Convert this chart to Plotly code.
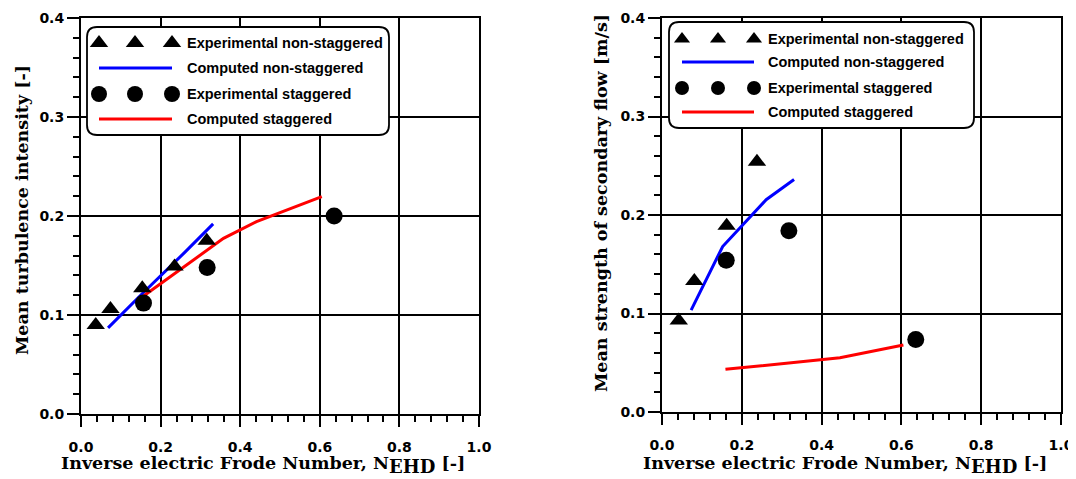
import plotly.graph_objects as go

# ---------------- data ----------------
# Left panel: mean turbulence intensity
ti_exp_ns_x = [0.037, 0.074, 0.154, 0.235, 0.316]
ti_exp_ns_y = [0.090, 0.106, 0.127, 0.149, 0.175]
ti_comp_ns_x = [0.068, 0.155, 0.26, 0.332]
ti_comp_ns_y = [0.087, 0.122, 0.163, 0.192]
ti_exp_st_x = [0.157, 0.317, 0.636]
ti_exp_st_y = [0.112, 0.148, 0.200]
ti_comp_st_x = [0.158, 0.358, 0.441, 0.605]
ti_comp_st_y = [0.1195, 0.1774, 0.1943, 0.2195]

# Right panel: mean strength of secondary flow
sf_exp_ns_x = [0.042, 0.081, 0.162, 0.238]
sf_exp_ns_y = [0.093, 0.133, 0.189, 0.254]
sf_comp_ns_x = [0.073, 0.152, 0.261, 0.331]
sf_comp_ns_y = [0.1035, 0.168, 0.2155, 0.236]
sf_exp_st_x = [0.161, 0.318, 0.636]
sf_exp_st_y = [0.154, 0.184, 0.0736]
sf_comp_st_x = [0.159, 0.446, 0.605]
sf_comp_st_y = [0.0433, 0.055, 0.068]

x_ticks = [0.0, 0.2, 0.4, 0.6, 0.8, 1.0]
y_ticks = [0.0, 0.1, 0.2, 0.3, 0.4]
legend_labels = ["Experimental non-staggered", "Computed non-staggered",
                 "Experimental staggered", "Computed staggered"]
x_title = "Inverse electric Frode Number, N<sub><span style=\"font-size:18px\">EHD</span></sub> [-]"
y_title_left = "Mean turbulence intensity [-]"
y_title_right = "Mean strength of secondary flow [m/s]"

# The page body has an 8px default margin: size the figure so it fits the window
OFF = 8
W, H = 1076 - OFF, 479 - OFF
BLUE = "rgb(0,0,255)"
RED = "rgb(255,0,0)"

TICK_FONT = dict(family="DejaVu Sans", size=14, color="black", weight="bold")
TITLE_FONT = dict(family="DejaVu Serif", size=17.5, color="black", weight="bold")
LEG_FONT = dict(family="Liberation Sans", size=14.5, color="black", weight="bold")

fig = go.Figure()

def add_panel(xa, ya, enx, eny, cnx, cny, esx, esy, csx, csy):
    fig.add_trace(go.Scatter(x=cnx, y=cny, mode="lines", line=dict(color=BLUE, width=3),
                             xaxis=xa, yaxis=ya, showlegend=False))
    fig.add_trace(go.Scatter(x=csx, y=csy, mode="lines", line=dict(color=RED, width=3),
                             xaxis=xa, yaxis=ya, showlegend=False))
    fig.add_trace(go.Scatter(x=enx, y=eny, mode="markers",
                             marker=dict(symbol="triangle-up", size=16, color="black"),
                             xaxis=xa, yaxis=ya, showlegend=False))
    fig.add_trace(go.Scatter(x=esx, y=esy, mode="markers",
                             marker=dict(symbol="circle", size=17, color="black"),
                             xaxis=xa, yaxis=ya, showlegend=False))

add_panel("x", "y", ti_exp_ns_x, ti_exp_ns_y, ti_comp_ns_x, ti_comp_ns_y,
          ti_exp_st_x, ti_exp_st_y, ti_comp_st_x, ti_comp_st_y)
add_panel("x2", "y2", sf_exp_ns_x, sf_exp_ns_y, sf_comp_ns_x, sf_comp_ns_y,
          sf_exp_st_x, sf_exp_st_y, sf_comp_st_x, sf_comp_st_y)

# screen pixel -> figure pixel / paper
def fx(v):
    return v - OFF

def fy(v):
    return v - OFF

def px_x(v):
    return fx(v) / W

def px_y(v):
    return 1 - fy(v) / H

def xaxis_cfg(d0, d1):
    return dict(domain=[px_x(d0), px_x(d1)], range=[0, 1], tickvals=x_ticks,
                tickformat=".1f", showgrid=True, gridcolor="black", gridwidth=2,
                zeroline=False, showline=True, linecolor="black", linewidth=2, mirror=True,
                ticks="outside", ticklen=11, tickwidth=2, tickcolor="black",
                tickfont=TICK_FONT, ticklabelstandoff=8, automargin=False,
                minor=dict(ticks="outside", ticklen=6, tickwidth=1.5, tickcolor="black",
                           dtick=0.04, showgrid=False),
                fixedrange=True)

def yaxis_cfg(d0, d1):
    return dict(domain=[px_y(d1), px_y(d0)], range=[0, 0.4], tickvals=y_ticks,
                tickformat=".1f", showgrid=True, gridcolor="black", gridwidth=2,
                zeroline=False, showline=True, linecolor="black", linewidth=2, mirror=True,
                ticks="outside", ticklen=12, tickwidth=2, tickcolor="black",
                tickfont=TICK_FONT, ticklabelstandoff=0, automargin=False,
                minor=dict(ticks="outside", ticklen=6, tickwidth=1.5, tickcolor="black",
                           dtick=0.02, showgrid=False),
                fixedrange=True)

# ---------------- legend overlay (pixel coordinate system) ----------------
def legend_box(bx0, by0, bx1, by1, rows_y, sym_x, text_x, tri_size, circ_size):
    bx0, bx1, text_x = fx(bx0), fx(bx1), fx(text_x)
    by0, by1 = fy(by0), fy(by1)
    rows_y = [fy(v) for v in rows_y]
    sym_x = [fx(v) for v in sym_x]
    r = 10
    path = (f"M {bx0+r},{by0} L {bx1-r},{by0} Q {bx1},{by0} {bx1},{by0+r} "
            f"L {bx1},{by1-r} Q {bx1},{by1} {bx1-r},{by1} L {bx0+r},{by1} "
            f"Q {bx0},{by1} {bx0},{by1-r} L {bx0},{by0+r} Q {bx0},{by0} {bx0+r},{by0} Z")
    fig.add_shape(type="path", path=path, xref="x3", yref="y3", layer="below",
                  fillcolor="white", line=dict(color="black", width=1.8))
    fig.add_trace(go.Scatter(x=sym_x, y=[rows_y[0]] * 3, mode="markers",
                             marker=dict(symbol="triangle-up", size=tri_size, color="black"),
                             xaxis="x3", yaxis="y3", showlegend=False, cliponaxis=False))
    fig.add_trace(go.Scatter(x=[sym_x[0], sym_x[2]], y=[rows_y[1]] * 2, mode="lines",
                             line=dict(color=BLUE, width=3),
                             xaxis="x3", yaxis="y3", showlegend=False, cliponaxis=False))
    fig.add_trace(go.Scatter(x=sym_x, y=[rows_y[2]] * 3, mode="markers",
                             marker=dict(symbol="circle", size=circ_size, color="black"),
                             xaxis="x3", yaxis="y3", showlegend=False, cliponaxis=False))
    fig.add_trace(go.Scatter(x=[sym_x[0], sym_x[2]], y=[rows_y[3]] * 2, mode="lines",
                             line=dict(color=RED, width=3),
                             xaxis="x3", yaxis="y3", showlegend=False, cliponaxis=False))
    for lab, yy in zip(legend_labels, rows_y):
        fig.add_annotation(x=text_x, y=yy, xref="x3", yref="y3", text=lab,
                           showarrow=False, xanchor="left", yanchor="middle", font=LEG_FONT)

legend_box(87, 27, 389, 135, [43, 68, 94, 119], [99, 135, 172], 185, 16, 16)
legend_box(669, 22, 974, 128, [39, 62, 88, 112], [682, 718, 754], 766, 14, 14)

# axis titles
def title_ann(x, y, text, angle=0):
    fig.add_annotation(x=fx(x), y=fy(y), xref="x3", yref="y3", text=text, showarrow=False,
                       textangle=angle, xanchor="center", yanchor="middle", font=TITLE_FONT)

title_ann(263, 465, x_title)
title_ann(845, 465, x_title)
title_ann(22, 210, y_title_left, -90)
title_ann(601, 203, y_title_right, -90)

fig.update_layout(
    width=W, height=H,
    margin=dict(l=0, r=0, t=0, b=0, autoexpand=False),
    paper_bgcolor="white", plot_bgcolor="rgba(0,0,0,0)",
    showlegend=False,
    xaxis=dict(anchor="y", **xaxis_cfg(81, 479)),
    yaxis=dict(anchor="x", **yaxis_cfg(18, 414)),
    xaxis2=dict(anchor="y2", **xaxis_cfg(662, 1061)),
    yaxis2=dict(anchor="x2", **yaxis_cfg(18, 412)),
    xaxis3=dict(domain=[0, 1], range=[0, W], visible=False, anchor="y3",
                fixedrange=True, automargin=False),
    yaxis3=dict(domain=[0, 1], range=[H, 0], visible=False, anchor="x3",
                fixedrange=True, automargin=False),
)

fig.write_html("out.html")
